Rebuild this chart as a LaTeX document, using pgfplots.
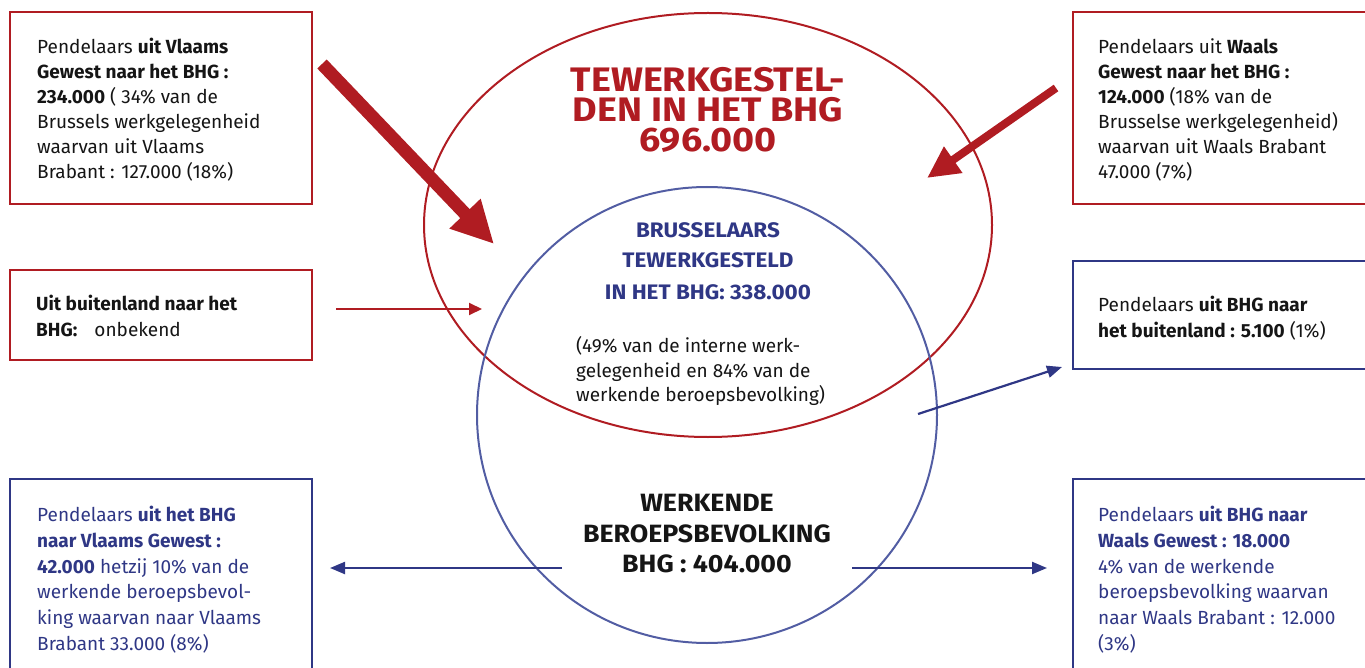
\documentclass[border=0pt]{standalone}
\usepackage{pgfplots}
\pgfplotsset{compat=1.18}
\usetikzlibrary{arrows.meta}
\usepackage{fontspec}
\setmainfont{Fira Sans}
\newfontfamily\wideA[FakeStretch=1.11]{Fira Sans}
\newfontfamily\wideB[FakeStretch=1.07]{Fira Sans}
\definecolor{bred}{HTML}{B01C22}
\definecolor{bblue}{HTML}{2F3785}
\definecolor{cblue}{HTML}{525DA3}
\definecolor{txt}{HTML}{151515}
\tikzset{
  t/.style={anchor=base west,inner sep=0pt,font=\fontsize{19}{25}\selectfont,text=txt},
  tb/.style={t,text=bblue},
  bt/.style={anchor=base,inner sep=0pt,text=bblue,font=\wideB\fontsize{21}{25}\selectfont\bfseries},
  kt/.style={anchor=base,inner sep=0pt,text=txt,font=\wideB\fontsize{25}{30}\selectfont\bfseries},
}
\begin{document}
\begin{tikzpicture}
\begin{axis}[width=1365pt,height=668pt,scale only axis,
  xmin=0,xmax=1365,ymin=0,ymax=668,y dir=reverse,hide axis,clip=false]
% ellipse and circle
\draw[bred,line width=2pt] (axis cs:708,225) ellipse [x radius=284, y radius=212];
\draw[cblue,line width=2pt] (axis cs:707,415) ellipse [x radius=230, y radius=228];
% boxes
\draw[bred,line width=2.5pt] (axis cs:10,12) rectangle (axis cs:312,204);
\draw[bred,line width=2.5pt] (axis cs:1073,12) rectangle (axis cs:1380,204);
\draw[bred,line width=2.5pt] (axis cs:10,270) rectangle (axis cs:312,360);
\draw[bblue,line width=2.5pt] (axis cs:1073,261) rectangle (axis cs:1380,369);
\draw[bblue,line width=2.5pt] (axis cs:10,479) rectangle (axis cs:312,690);
\draw[bblue,line width=2.5pt] (axis cs:1073,479) rectangle (axis cs:1380,690);
% arrows
\addplot[bred,line width=13pt,mark=none,-{Triangle[length=42pt,width=40pt]}] coordinates {(322,64) (494,244)};
\addplot[bred,line width=8pt,mark=none,-{Triangle[length=32pt,width=30pt]}] coordinates {(1056,88) (927,178)};
\addplot[bred,line width=2pt,mark=none,-{Triangle[length=13pt,width=12pt]}] coordinates {(336,309) (482,309)};
\addplot[bblue,line width=2.2pt,mark=none,-{Triangle[length=15pt,width=12pt]}] coordinates {(918,414) (1062,367)};
\addplot[bblue,line width=2.2pt,mark=none,-{Triangle[length=15pt,width=12pt]}] coordinates {(562,568) (330,568)};
\addplot[bblue,line width=2.2pt,mark=none,-{Triangle[length=15pt,width=12pt]}] coordinates {(852,568) (1047,568)};
% top-left box
\node[t] at (axis cs:37,54) {Pendelaars \textbf{uit Vlaams}};
\node[t] at (axis cs:37,79) {\textbf{Gewest naar het BHG :}};
\node[t] at (axis cs:37,104) {\textbf{234.000} ( 34\% van de};
\node[t] at (axis cs:37,129) {Brussels werkgelegenheid};
\node[t] at (axis cs:37,154) {waarvan uit Vlaams};
\node[t] at (axis cs:37,179) {Brabant : 127.000 (18\%)};
% top-right box
\node[t] at (axis cs:1098,54) {Pendelaars uit \textbf{Waals}};
\node[t] at (axis cs:1098,79) {\textbf{Gewest naar het BHG :}};
\node[t] at (axis cs:1098,104) {\textbf{124.000} (18\% van de};
\node[t] at (axis cs:1098,129) {Brusselse werkgelegenheid)};
\node[t] at (axis cs:1098,154) {waarvan uit Waals Brabant};
\node[t] at (axis cs:1098,179) {47.000 (7\%)};
% middle-left box
\node[t] at (axis cs:36,311) {\textbf{Uit buitenland naar het}};
\node[t] at (axis cs:36,336) {\textbf{BHG:}\hspace{0.9em}onbekend};
% middle-right box
\node[t] at (axis cs:1098,312) {Pendelaars \textbf{uit BHG naar}};
\node[t] at (axis cs:1098,337) {\textbf{het buitenland : 5.100} (1\%)};
% bottom-left box
\node[tb] at (axis cs:37,521) {Pendelaars \textbf{uit het BHG}};
\node[tb] at (axis cs:37,547) {\textbf{naar Vlaams Gewest :}};
\node[tb] at (axis cs:37,573) {\textbf{42.000} hetzij 10\% van de};
\node[tb] at (axis cs:37,598) {werkende beroepsbevol-};
\node[tb] at (axis cs:37,624) {king waarvan naar Vlaams};
\node[tb] at (axis cs:37,650) {Brabant 33.000 (8\%)};
% bottom-right box
\node[tb] at (axis cs:1098,521) {Pendelaars \textbf{uit BHG naar}};
\node[tb] at (axis cs:1098,547) {\textbf{Waals Gewest : 18.000}};
\node[tb] at (axis cs:1098,573) {4\% van de werkende};
\node[tb] at (axis cs:1098,598) {beroepsbevolking waarvan};
\node[tb] at (axis cs:1098,624) {naar Waals Brabant : 12.000};
\node[tb] at (axis cs:1098,650) {(3\%)};
% red title
\node[anchor=north,inner sep=0pt,align=center,text=bred,font=\wideA\fontsize{34}{30}\selectfont\bfseries] at (axis cs:708,67.5) {TEWERKGESTEL-\\DEN IN HET BHG\\696.000};
% blue title
\node[bt] at (axis cs:708,238) {BRUSSELAARS};
\node[bt] at (axis cs:708,268) {TEWERKGESTELD};
\node[bt] at (axis cs:708,300) {IN HET BHG: 338.000};
% paragraph
\node[t] at (axis cs:576,352) {(49\% van de interne werk-};
\node[t] at (axis cs:576,377) {gelegenheid en 84\% van de};
\node[t] at (axis cs:576,401) {werkende beroepsbevolking)};
% black title
\node[kt] at (axis cs:707,511) {WERKENDE};
\node[kt] at (axis cs:707,542) {BEROEPSBEVOLKING};
\node[kt] at (axis cs:707,572) {BHG : 404.000};
\end{axis}
\pgfresetboundingbox
\path[use as bounding box] (current axis.south west) rectangle (current axis.north east);
\end{tikzpicture}
\end{document}
